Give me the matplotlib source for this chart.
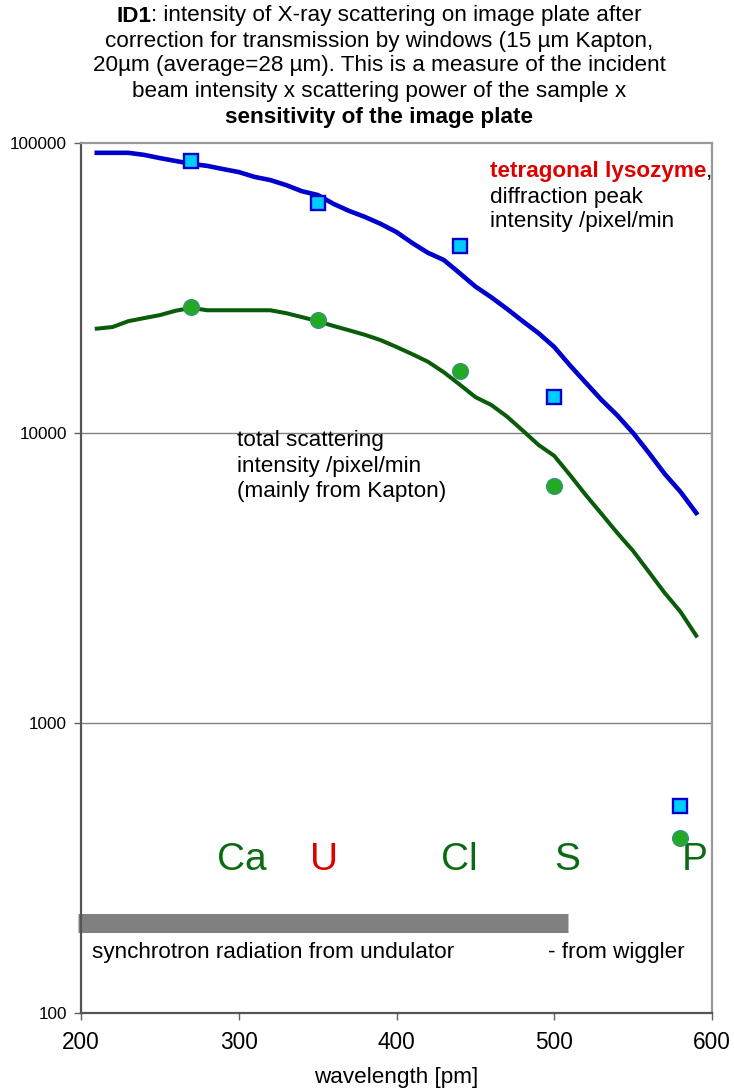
import matplotlib
matplotlib.use('Agg')
import matplotlib.pyplot as plt
from matplotlib.ticker import FixedLocator, FixedFormatter, NullLocator

plt.rcParams['font.family'] = ['Liberation Sans', 'DejaVu Sans']

# ---- data ----
wl_line = [210, 220, 230, 240, 250, 260, 270, 280, 290, 300, 310, 320, 330, 340,
           350, 360, 370, 380, 390, 400, 410, 420, 430, 440, 450, 460, 470, 480,
           490, 500, 510, 520, 530, 540, 550, 560, 570, 580, 590]
lyso_line = [92500, 92500, 92500, 91000, 88700, 86700, 84700, 83400, 81300, 79400,
             76400, 74500, 71600, 68200, 66200, 61700, 58300, 55600, 52600, 49300,
             45200, 41800, 39500, 35600, 32000, 29400, 26800, 24300, 22100, 19800,
             17100, 14900, 13000, 11500, 10000, 8530, 7230, 6270, 5300]
total_line = [22900, 23200, 24300, 24900, 25500, 26400, 27000, 26500, 26500, 26500,
              26500, 26500, 25900, 25100, 24300, 23400, 22600, 21800, 20900, 19800,
              18700, 17600, 16200, 14700, 13300, 12500, 11400, 10200, 9100, 8340,
              7160, 6110, 5260, 4520, 3920, 3320, 2810, 2420, 2000]
wl_pts = [270, 350, 440, 500, 580]
lyso_pts = [86700, 62100, 44200, 13300, 518]
total_pts = [27200, 24500, 16400, 6560, 401]
elements = ['Ca', 'U', 'Cl', 'S', 'P']
element_wl = [302, 354, 440, 508, 589]
element_colors = ['#0b6b12', '#dd0000', '#0b6b12', '#0b6b12', '#0b6b12']
element_level = 337
undulator_range = [198, 509]
undulator_level = 204
yticks = [100, 1000, 10000, 100000]
ytick_labels = ['100', '1000', '10000', '100000']
xticks = [200, 300, 400, 500, 600]

fig = plt.figure(figsize=(7.34, 10.88), dpi=100)
ax = fig.add_axes([81/734, 1 - 1013/1088, 631/734, 870/1088])

ax.set_yscale('log')
ax.set_xlim(200, 600)
ax.set_ylim(100, 100000)

ax.plot(wl_line, lyso_line, color='#0000cc', lw=3.3, zorder=3)
ax.plot(wl_line, total_line, color='#0a5c0a', lw=2.9, zorder=3)
ax.plot(wl_pts, lyso_pts, ls='none', marker='s', ms=10.5, mfc='#00ccff', mec='#0000cc',
        mew=1.7, zorder=5)
ax.plot(wl_pts, total_pts, ls='none', marker='o', ms=11, mfc='#22aa22', mec='#339966',
        mew=1.3, zorder=5)

ax.plot(undulator_range, [undulator_level, undulator_level], color='#808080', lw=13.7,
        solid_capstyle='butt', zorder=2, clip_on=False)

for el, x, c in zip(elements, element_wl, element_colors):
    ax.text(x, element_level, el, color=c, fontsize=28, ha='center', va='center', zorder=4)

ax.yaxis.set_major_locator(FixedLocator(yticks))
ax.yaxis.set_major_formatter(FixedFormatter(ytick_labels))
ax.yaxis.set_minor_locator(NullLocator())
ax.set_xticks(xticks)
ax.xaxis.set_minor_locator(NullLocator())
for v in yticks[1:-1]:
    ax.axhline(v, color='#808080', lw=1.0, zorder=1)

ax.tick_params(axis='y', labelsize=12.3, length=5, width=1, color='#606060', pad=5)
ax.tick_params(axis='x', labelsize=16.3, length=5, width=1, color='#606060', pad=8)
ax.set_xlabel('wavelength [pm]', fontsize=16.2, labelpad=9)

for s in ['left', 'bottom']:
    ax.spines[s].set_color('#555555')
    ax.spines[s].set_linewidth(1.6)
for s in ['top', 'right']:
    ax.spines[s].set_color('#999999')
    ax.spines[s].set_linewidth(1.6)

fs = 16.2
t = ax.text(0.648, 0.9667, 'tetragonal lysozyme', transform=ax.transAxes, color='#dd0000',
            fontweight='bold', fontsize=fs, va='center', ha='left')
fig.canvas.draw()
r = fig.canvas.get_renderer()
bb = t.get_window_extent(r).transformed(ax.transAxes.inverted())
ax.text(bb.x1, 0.9667, ',', transform=ax.transAxes, fontsize=fs, va='center', ha='left')
ax.text(0.648, 0.9379, 'diffraction peak', transform=ax.transAxes, fontsize=fs, va='center')
ax.text(0.648, 0.9092, 'intensity /pixel/min', transform=ax.transAxes, fontsize=fs, va='center')

ax.text(0.247, 0.6575, 'total scattering', transform=ax.transAxes, fontsize=fs, va='center')
ax.text(0.247, 0.6287, 'intensity /pixel/min', transform=ax.transAxes, fontsize=fs, va='center')
ax.text(0.247, 0.6000, '(mainly from Kapton)', transform=ax.transAxes, fontsize=fs, va='center')

ax.text(0.0174, 0.069, 'synchrotron radiation from undulator', transform=ax.transAxes,
        fontsize=fs, va='center')
ax.text(0.740, 0.069, '- from wiggler', transform=ax.transAxes, fontsize=fs, va='center')

cx = 379 / 734
def mixed_line(parts, y):
    texts = []
    widths = []
    for s, w in parts:
        tt = fig.text(0, y, s, fontsize=fs, fontweight=w, va='center', ha='left')
        texts.append(tt)
        widths.append(tt.get_window_extent(r).width / fig.bbox.width)
    total = sum(widths)
    x = cx - total / 2
    for tt, w in zip(texts, widths):
        tt.set_x(x)
        x += w

title_lines = [
    [('ID1', 'bold'), (': intensity of X-ray scattering on image plate after', 'normal')],
    [('correction for transmission by windows (15 µm Kapton,', 'normal')],
    [('20µm (average=28 µm). This is a measure of the incident', 'normal')],
    [('beam intensity x scattering power of the sample x', 'normal')],
    [('sensitivity of the image plate', 'bold')],
]
title_y = [16, 41, 66, 91, 118]
for parts, yp in zip(title_lines, title_y):
    mixed_line(parts, 1 - yp / 1088)

fig.savefig('out.png', dpi=100)
